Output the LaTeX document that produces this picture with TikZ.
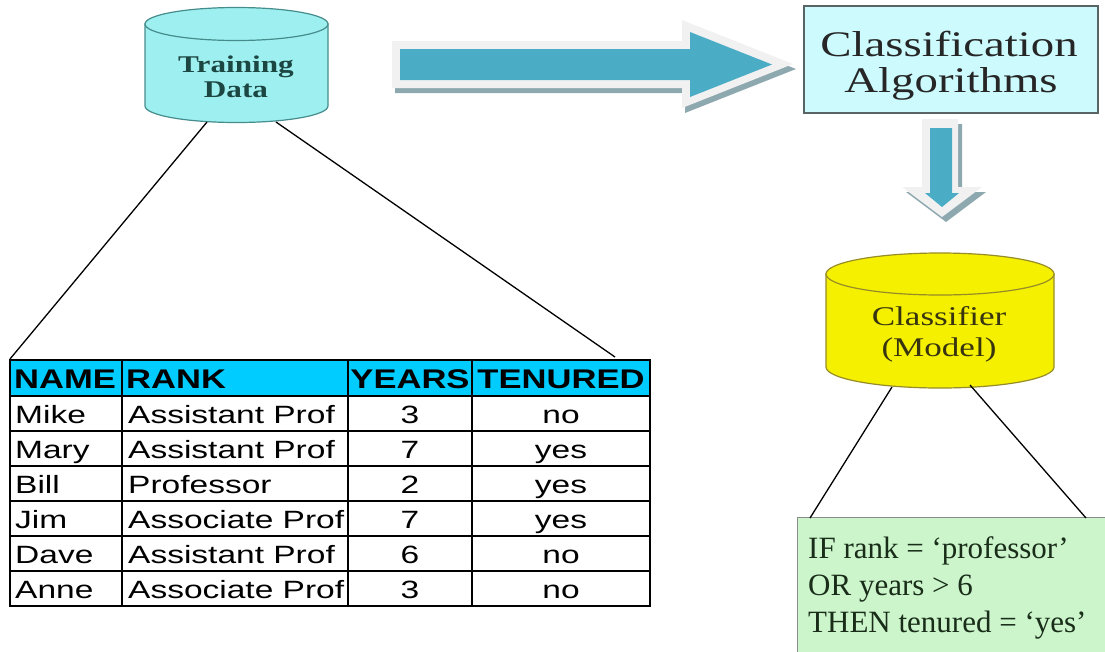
\documentclass[tikz,border=0pt]{standalone}
\usepackage{fontspec}
\setmainfont{Liberation Serif}
\newfontfamily\tabheadfont{Liberation Sans}[FakeStretch=1.28]
\newfontfamily\tabbodyfont{Liberation Sans}[FakeStretch=1.34]
\newfontfamily\widefont{Liberation Serif}[FakeStretch=1.3]
\newfontfamily\plainfont{Liberation Serif}

\definecolor{tdfill}{RGB}{158,240,240}
\definecolor{tdline}{RGB}{70,140,140}
\definecolor{tdtext}{RGB}{28,70,66}
\definecolor{arrowblue}{RGB}{74,172,197}
\definecolor{arrowrim}{RGB}{241,241,241}
\definecolor{arrowshade}{RGB}{142,168,176}
\definecolor{algfill}{RGB}{205,250,253}
\definecolor{algline}{RGB}{90,100,100}
\definecolor{clsfill}{RGB}{245,240,0}
\definecolor{clsline}{RGB}{150,140,40}
\definecolor{clstext}{RGB}{55,52,15}
\definecolor{rulefill}{RGB}{204,245,204}
\definecolor{ruletext}{RGB}{25,45,25}
\definecolor{headfill}{RGB}{0,204,255}

\tikzset{
  link/.style={draw=black, line width=1.3pt},
  grid/.style={draw=black, line width=2pt},
  tdlabel/.style={inner sep=0pt, anchor=base, text=tdtext,
    font=\widefont\bfseries\fontsize{24}{26}\selectfont},
  alglabel/.style={inner sep=0pt, anchor=base, text=black!85,
    font=\widefont\fontsize{36}{38}\selectfont},
  clslabel/.style={inner sep=0pt, anchor=base, text=clstext,
    font=\widefont\fontsize{27}{30}\selectfont},
  rulelabel/.style={inner sep=0pt, anchor=base west, text=ruletext,
    font=\plainfont\fontsize{31}{36}\selectfont},
  headcell/.style={inner sep=0pt, font=\tabheadfont\bfseries\fontsize{27}{30}\selectfont},
  bodycell/.style={inner sep=0pt, font=\tabbodyfont\fontsize{25}{30}\selectfont},
}

\begin{document}
\begin{tikzpicture}[x=1pt, y=-1pt]
\useasboundingbox (0,0) rectangle (1105,651);

% ---- Training Data cylinder (y grows downwards, so the lower rim runs 180 -> 0) ----
\filldraw[fill=tdfill, draw=tdline, line width=1.2pt]
  (145,24) -- (145,106) arc[start angle=180, end angle=0, x radius=91.5, y radius=16.5]
  -- (328,24) -- cycle;
\filldraw[fill=tdfill, draw=tdline, line width=1.2pt] (236.5,24) ellipse[x radius=91.5, y radius=16.5];
\node[tdlabel] (td1) at (236,72) {Training};
\node[tdlabel] (td2) at (236,97) {Data};
\coordinate (tdL) at (207,122);
\coordinate (tdR) at (276,122);

% ---- block arrow to the algorithms box ----
\fill[arrowshade, shift={(3,5)}]
  (392,41) -- (682,41) -- (682,20) -- (793,64) -- (682,108) -- (682,88) -- (392,88) -- cycle;
\fill[arrowrim]
  (392,41) -- (682,41) -- (682,20) -- (793,64) -- (682,108) -- (682,88) -- (392,88) -- cycle;
\fill[arrowblue]
  (400,49) -- (690,49) -- (690,32) -- (772,64.5) -- (690,97) -- (690,80) -- (400,80) -- cycle;

% ---- Classification Algorithms box ----
\node[draw=algline, line width=2pt, fill=algfill, minimum width=294pt, minimum height=107pt,
  inner sep=0pt] (alg) at (951,59.5) {};
\node[alglabel] (alg1) at (949,56) {Classification};
\node[alglabel] (alg2) at (951,92) {Algorithms};

% ---- block arrow down to the classifier ----
\fill[arrowshade, shift={(4,5)}]
  (922,119) -- (958,119) -- (958,187) -- (982,187) -- (942,217) -- (902,187) -- (922,187) -- cycle;
\fill[arrowrim]
  (922,119) -- (958,119) -- (958,187) -- (982,187) -- (942,217) -- (902,187) -- (922,187) -- cycle;
\fill[arrowblue]
  (930,128) -- (952,128) -- (952,193) -- (959,193) -- (942,207) -- (925,193) -- (930,193) -- cycle;

% ---- Classifier (Model) cylinder ----
\filldraw[fill=clsfill, draw=clsline, line width=1.2pt]
  (826,274) -- (826,367) arc[start angle=180, end angle=0, x radius=114, y radius=21]
  -- (1054,274) -- cycle;
\filldraw[fill=clsfill, draw=clsline, line width=1.2pt] (940,274) ellipse[x radius=114, y radius=21];
\node[clslabel] (cls1) at (939,325) {Classifier};
\node[clslabel] (cls2) at (939,356) {(Model)};
\coordinate (clsL) at (892,387);
\coordinate (clsR) at (970,385);

% ---- rule box ----
\node[draw=black!45, line width=1pt, fill=rulefill, minimum width=313pt, minimum height=143pt,
  inner sep=0pt] (rules) at (953.5,588.5) {};
\node[rulelabel] (r1) at (808,558) {IF rank = ‘professor’};
\node[rulelabel] (r2) at (808,595) {OR years > 6};
\node[rulelabel] (r3) at (808,632) {THEN tenured = ‘yes’};
\coordinate (rulesL) at (810,518);
\coordinate (rulesR) at (1086,518);

% ---- training table ----
\fill[headfill] (10,360) rectangle (650,396);
\foreach \yy in {360,396,431,466,501,536,571,606}
  \draw[grid] (9,\yy) -- (651,\yy);
\foreach \xx in {10,122,348,472,650}
  \draw[grid] (\xx,360) -- (\xx,606);

\node[headcell, anchor=base west] (hname) at (14,388) {NAME};
\node[headcell, anchor=base west] (hrank) at (126,388) {RANK};
\node[headcell, anchor=base] (hyears) at (410,388) {YEARS};
\node[headcell, anchor=base] (hten) at (561,388) {TENURED};

\foreach \nm/\rk/\yr/\tn [count=\i] in {
    Mike/Assistant Prof/3/no,
    Mary/Assistant Prof/7/yes,
    Bill/Professor/2/yes,
    Jim/Associate Prof/7/yes,
    Dave/Assistant Prof/6/no,
    Anne/Associate Prof/3/no} {
  \pgfmathsetmacro\yb{423+35*(\i-1)}
  \node[bodycell, anchor=base west] (name\i) at (15,\yb) {\nm};
  \node[bodycell, anchor=base west] (rank\i) at (128,\yb) {\rk};
  \node[bodycell, anchor=base] (years\i) at (410,\yb) {\yr};
  \node[bodycell, anchor=base] (ten\i) at (561,\yb) {\tn};
}
\coordinate (tabL) at (10,359);
\coordinate (tabR) at (615,357);

% ---- connectors ----
\draw[link] (tdL) -- (tabL);
\draw[link] (tdR) -- (tabR);
\draw[link] (clsL) -- (rulesL);
\draw[link] (clsR) -- (rulesR);
\end{tikzpicture}
\end{document}
